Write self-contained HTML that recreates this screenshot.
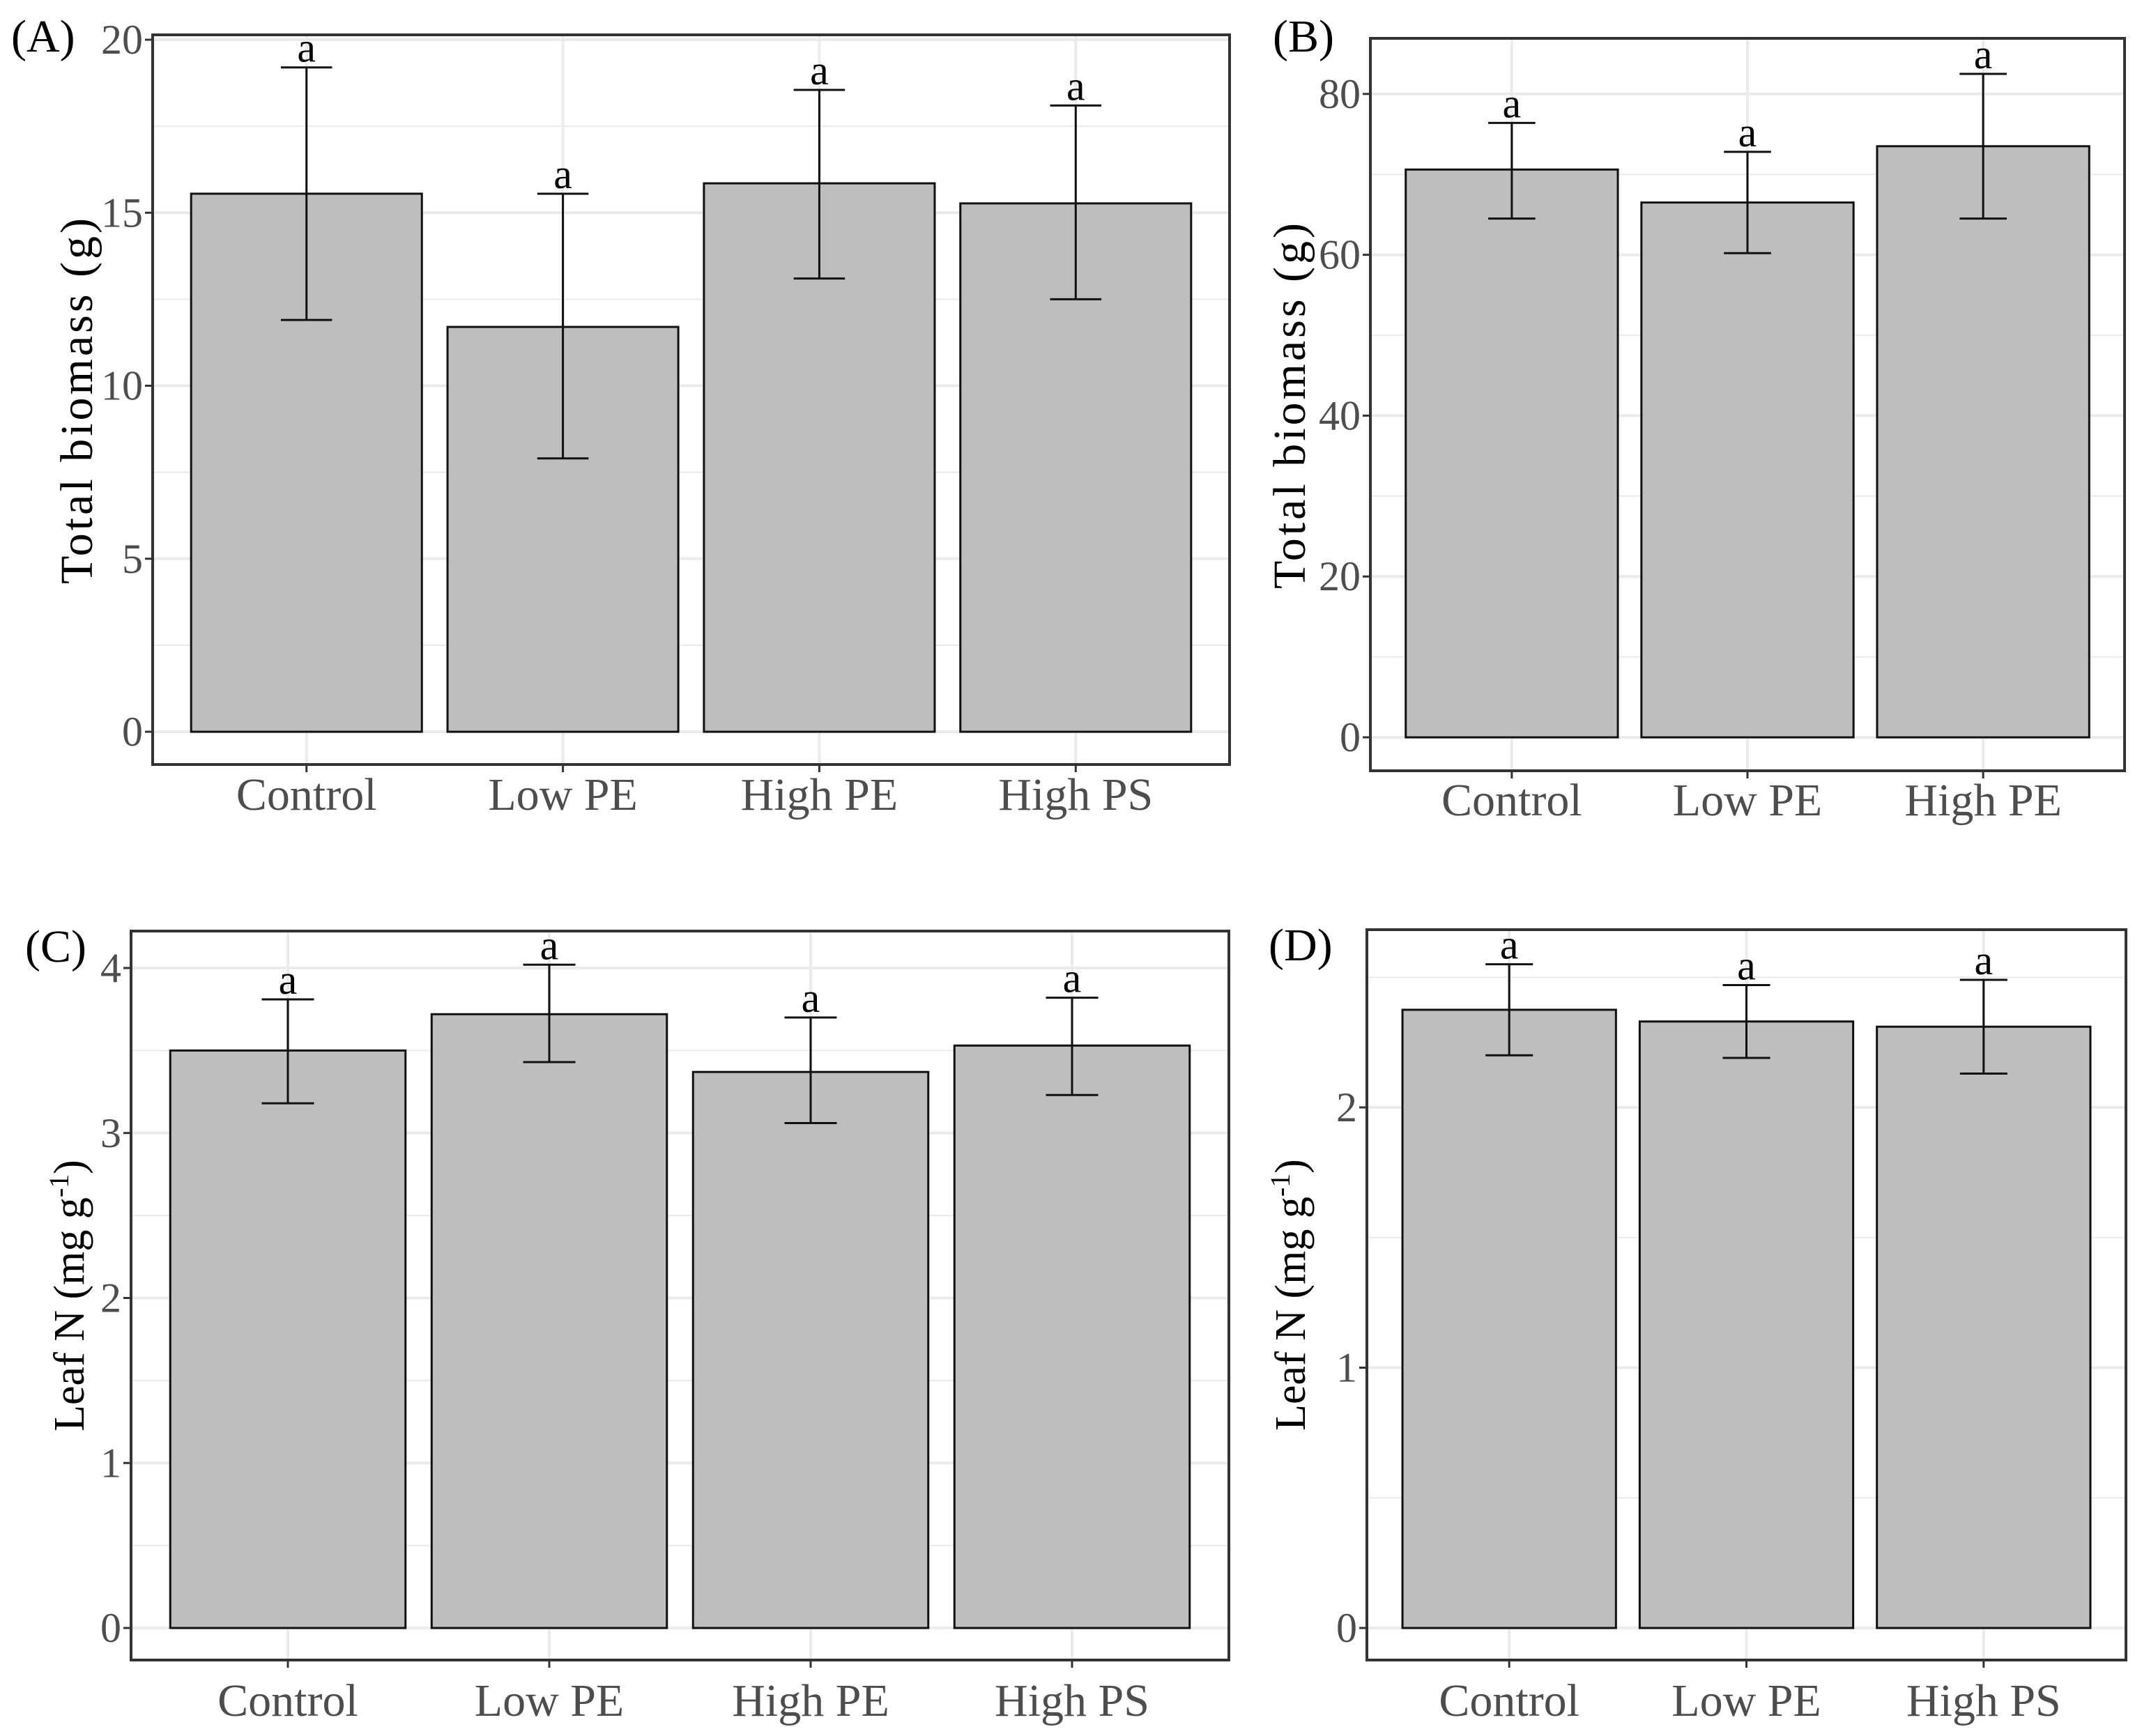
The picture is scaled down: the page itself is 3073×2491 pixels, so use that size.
<!DOCTYPE html>
<html><head><meta charset="utf-8"><style>
html,body{margin:0;padding:0;background:#fff}
svg{display:block}
text{font-family:"Liberation Serif",serif}
</style></head><body>
<svg id="fig" width="3073" height="2491" viewBox="0 0 3073 2491" xmlns="http://www.w3.org/2000/svg"></svg>
<script>
// Panel A
const catsA = ["Control","Low PE","High PE","High PS"];
const meanA = [15.55, 11.7, 15.85, 15.27];
const upA = [19.2, 15.55, 18.55, 18.1];
const loA = [11.9, 7.9, 13.1, 12.5];
const ticksA = [0,5,10,15,20];
// Panel B
const catsB = ["Control","Low PE","High PE"];
const meanB = [70.6, 66.5, 73.5];
const upB = [76.4, 72.8, 82.5];
const loB = [64.5, 60.2, 64.5];
const ticksB = [0,20,40,60,80];
// Panel C
const catsC = ["Control","Low PE","High PE","High PS"];
const meanC = [3.50, 3.72, 3.37, 3.53];
const upC = [3.81, 4.02, 3.70, 3.82];
const loC = [3.18, 3.43, 3.06, 3.23];
const ticksC = [0,1,2,3,4];
// Panel D
const catsD = ["Control","Low PE","High PS"];
const meanD = [2.375, 2.33, 2.31];
const upD = [2.55, 2.47, 2.49];
const loD = [2.20, 2.19, 2.13];
const ticksD = [0,1,2];

const NS="http://www.w3.org/2000/svg";
const svg=document.getElementById('fig');
function mk(tag,attrs,parent,txt){const e=document.createElementNS(NS,tag);for(const k in attrs)e.setAttribute(k,attrs[k]);if(txt!==undefined)e.textContent=txt;(parent||svg).appendChild(e);return e;}

function panel(cfg){
  const g=mk('g',{});
  
  
  const {L,R,T,B,y0,ppu,cats,mean,up,lo,ticks}=cfg;
  const Y=v=>y0-v*ppu;
  const band=(R-L)/(cats.length-1+1.2);
  const X=i=>L+0.6*band+i*band;
  const vmax=(y0-T)/ppu;
  const step=ticks[1]-ticks[0];
  for(let v=step/2; v<vmax; v+=step){
    const ln=mk('line',{x1:L,x2:R,y1:Y(v),y2:Y(v),stroke:'#ebebeb','stroke-width':2},g);
    
    
  }
  ticks.forEach(v=>{
    const ln=mk('line',{x1:L,x2:R,y1:Y(v),y2:Y(v),stroke:'#ebebeb','stroke-width':4},g);
    
    
    const tk=mk('line',{x1:L-11,x2:L,y1:Y(v),y2:Y(v),stroke:'#333','stroke-width':3},g);
    
    
    const t=mk('text',{x:L-14,y:Y(v)+20,'text-anchor':'end','font-size':60,fill:'#4d4d4d'},g,String(v));
    
    
  });
  cats.forEach((c,i)=>{
    const vl=mk('line',{x1:X(i),x2:X(i),y1:T,y2:B,stroke:'#ebebeb','stroke-width':4},g);
    
    
  });
  cats.forEach((c,i)=>{
    const w=band*0.9;
    const r=mk('rect',{x:X(i)-w/2,y:Y(mean[i]),width:w,height:Y(0)-Y(mean[i]),fill:'#bebebe',stroke:'#111','stroke-width':3},g);
    
    
    const cw=band*0.1;
    const eb=mk('path',{d:`M${X(i)-cw},${Y(up[i])}H${X(i)+cw}M${X(i)},${Y(up[i])}V${Y(lo[i])}M${X(i)-cw},${Y(lo[i])}H${X(i)+cw}`,stroke:'#111','stroke-width':3,fill:'none'},g);
    
    
    const a=mk('text',{x:X(i),y:Y(up[i])-8,'text-anchor':'middle','font-size':60,fill:'#000'},g,'a');
    
    
    const xt=mk('line',{x1:X(i),x2:X(i),y1:B,y2:B+11,stroke:'#333','stroke-width':3},g);
    
    
    const xl=mk('text',{x:X(i),y:cfg.xlabY,'text-anchor':'middle','font-size':66,fill:'#4d4d4d'},g,c);
    
    
  });
  const fr=mk('rect',{x:L,y:T,width:R-L,height:B-T,fill:'none',stroke:'#333','stroke-width':4},g);
  
  
  const cy=(T+B)/2;
  const yt=mk('text',{x:cfg.ytx,y:cy,'text-anchor':'middle','font-size':cfg.leafN?62:66,fill:'#000',transform:`rotate(-90 ${cfg.ytx} ${cy})`},g);
  
  
  if(cfg.leafN){
    mk('tspan',{},yt,'Leaf N (mg g');
    mk('tspan',{dy:-22,'font-size':40},yt,'-1');
    mk('tspan',{dy:22},yt,')');
  } else { yt.setAttribute('letter-spacing','4'); yt.textContent='Total biomass  (g)'; }
  const pl=mk('text',{x:cfg.plx,y:cfg.ply,'font-size':66,fill:'#000'},g,'('+cfg.id+')');
  
  
}
panel({id:'A',L:219,R:1764,T:50,B:1097,y0:1050,ppu:49.65,cats:catsA,mean:meanA,up:upA,lo:loA,ticks:ticksA,xlabY:1162,ytx:132,plx:16,ply:74});
panel({id:'B',L:1966,R:3048,T:55,B:1106,y0:1058,ppu:11.54,cats:catsB,mean:meanB,up:upB,lo:loB,ticks:ticksB,xlabY:1170,ytx:1872,plx:1826,ply:74});
panel({id:'C',L:188,R:1763,T:1336,B:2382,y0:2336,ppu:236.75,cats:catsC,mean:meanC,up:upC,lo:loC,ticks:ticksC,xlabY:2462,ytx:120,plx:36,ply:1380,leafN:true});
panel({id:'D',L:1961,R:3050,T:1334,B:2382,y0:2336,ppu:373.5,cats:catsD,mean:meanD,up:upD,lo:loD,ticks:ticksD,xlabY:2462,ytx:1872,plx:1820,ply:1378,leafN:true});
</script>
</body></html>
